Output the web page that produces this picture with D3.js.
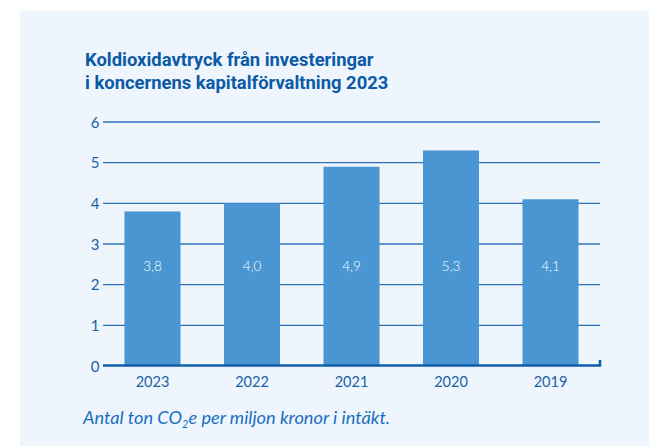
<!DOCTYPE html>
<html>
<head>
<meta charset="utf-8">
<script src="https://cdn.jsdelivr.net/npm/d3@7"></script>
<style>
  body { margin: 0; background: #fff; }
  svg { display: block; }
</style>
</head>
<body>
<svg width="649" height="446"></svg>
<script>
// data
var years = ["2023", "2022", "2021", "2020", "2019"];
var values = [3.8, 4.0, 4.9, 5.3, 4.1];
var yTicks = [0, 1, 2, 3, 4, 5, 6];
var titleLines = ["Koldioxidavtryck från investeringar", "i koncernens kapitalförvaltning 2023"];

var svg = d3.select("svg");

svg.append("rect")
    .attr("x", 20).attr("y", 11)
    .attr("width", 629).attr("height", 435)
    .attr("fill", "#eef5fd");

var x = d3.scaleBand()
    .domain(years)
    .range([103, 600])
    .paddingInner(0.437)
    .paddingOuter(0.216);

var y = d3.scaleLinear()
    .domain([0, 6])
    .range([366, 122]);

// gridlines
svg.append("g")
    .selectAll("line")
    .data(yTicks.filter(function(d) { return d > 0; }))
    .enter().append("line")
    .attr("x1", 103).attr("x2", 600)
    .attr("y1", function(d) { return y(d); })
    .attr("y2", function(d) { return y(d); })
    .attr("stroke", "#2f72b8")
    .attr("stroke-width", 1.3);

// y tick labels
svg.append("g")
    .selectAll("text")
    .data(yTicks)
    .enter().append("text")
    .attr("x", 95)
    .attr("y", function(d) { return y(d) + 5.5; })
    .attr("text-anchor", "middle")
    .attr("font-family", "Lato, sans-serif")
    .attr("font-size", 15)
    .attr("fill", "#1b5fa6")
    .text(function(d) { return d; });

// bars
svg.append("g")
    .selectAll("rect")
    .data(values)
    .enter().append("rect")
    .attr("x", function(d, i) { return x(years[i]); })
    .attr("y", function(d) { return y(d); })
    .attr("width", x.bandwidth())
    .attr("height", function(d) { return y(0) - y(d); })
    .attr("fill", "#4a96d2");

// value labels
svg.append("g")
    .selectAll("text")
    .data(values)
    .enter().append("text")
    .attr("x", function(d, i) { return x(years[i]) + x.bandwidth() / 2; })
    .attr("y", 271)
    .attr("text-anchor", "middle")
    .attr("font-family", "Lato, sans-serif")
    .attr("font-weight", 300)
    .attr("font-size", 13.5)
    .attr("fill", "#ffffff")
    .text(function(d) { return d.toFixed(1).replace(".", ","); });

// baseline with right end tick
svg.append("path")
    .attr("d", "M103," + (y(0) - 0.5) + "H600V" + (y(0) - 6))
    .attr("fill", "none")
    .attr("stroke", "#115ea8")
    .attr("stroke-width", 2.5);

// x labels
svg.append("g")
    .selectAll("text")
    .data(years)
    .enter().append("text")
    .attr("x", function(d) { return x(d) + x.bandwidth() / 2; })
    .attr("y", 387)
    .attr("text-anchor", "middle")
    .attr("font-family", "Lato, sans-serif")
    .attr("font-size", 14.5)
    .attr("fill", "#1b5fa6")
    .text(function(d) { return d; });

// title
svg.append("g")
    .selectAll("text")
    .data(titleLines)
    .enter().append("text")
    .attr("x", 85)
    .attr("y", function(d, i) { return 66 + i * 23; })
    .attr("font-family", "Roboto, sans-serif")
    .attr("font-weight", "bold")
    .attr("font-size", 18.4)
    .attr("fill", "#0b5aa5")
    .text(function(d) { return d; });

// caption
var cap = svg.append("text")
    .attr("x", 83)
    .attr("y", 424)
    .attr("font-family", "Lato, sans-serif")
    .attr("font-style", "italic")
    .attr("font-size", 18.2)
    .attr("fill", "#1a6fbf");
cap.append("tspan").text("Antal ton CO");
cap.append("tspan").attr("dy", 4).attr("font-size", 11).text("2");
cap.append("tspan").attr("dy", -4).text("e per miljon kronor i intäkt.");
</script>
</body>
</html>
